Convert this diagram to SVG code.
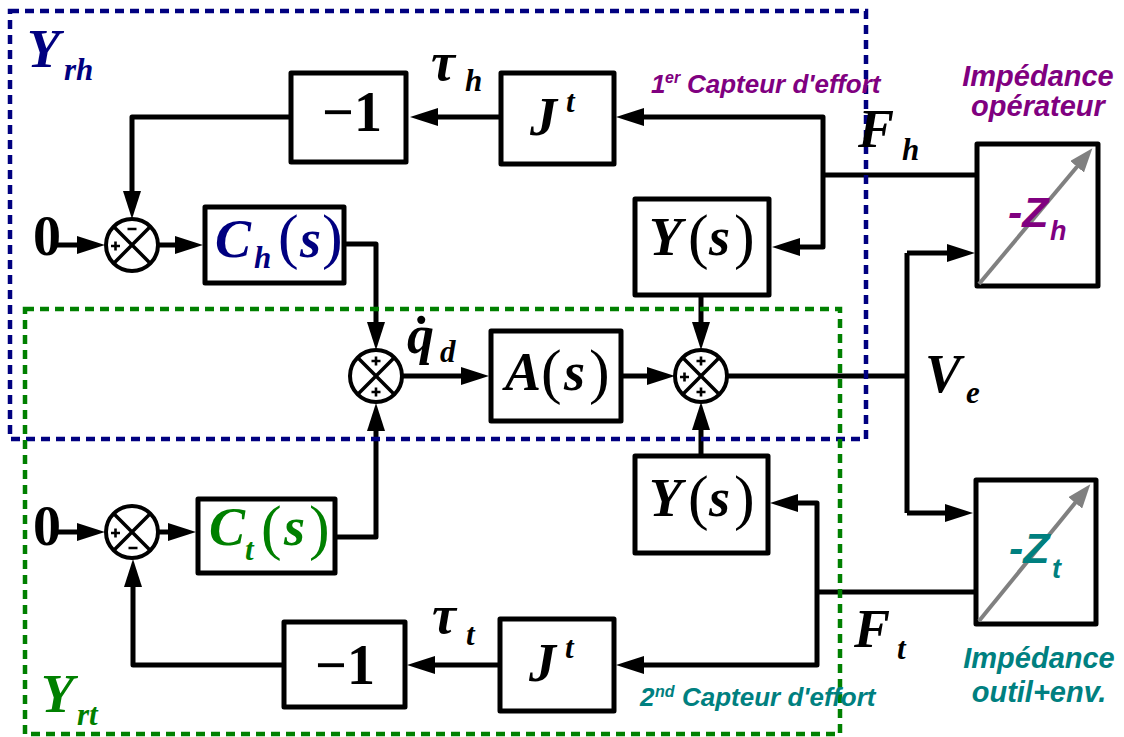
<svg xmlns="http://www.w3.org/2000/svg" width="1124" height="737" viewBox="0 0 1124 737">
<style>
.box{fill:#fff;stroke:#000;stroke-width:5;stroke-linejoin:round}
.sum{fill:#fff;stroke:#000;stroke-width:4}
.x{stroke:#000;stroke-width:3.5;fill:none}
.sg{stroke:#000;stroke-width:2.6;fill:none}
.c{fill:none;stroke:#000;stroke-width:5;stroke-linejoin:round}
.ca{fill:none;stroke:#000;stroke-width:5;stroke-linejoin:round;marker-end:url(#ah)}
.g{fill:none;stroke:#808080;stroke-width:4;marker-end:url(#gh)}
.dash{fill:none;stroke-width:4.5;stroke-dasharray:9 6}
.m{font-family:"Liberation Serif",serif;font-weight:bold;font-style:italic;font-size:54px}
.mu{font-family:"Liberation Serif",serif;font-weight:bold;font-size:56px}
.s{font-size:31px}
.p{font-family:"Liberation Serif",serif;font-weight:normal;font-style:normal;font-size:62px}
.lab{font-family:"Liberation Sans",Arial,sans-serif;font-weight:bold;font-style:italic}
</style>
<defs>
<marker id="ah" markerUnits="userSpaceOnUse" markerWidth="28" markerHeight="18" refX="18" refY="9" orient="auto"><path d="M0,0 L28,9 L0,18 z" fill="#000"/></marker>
<marker id="gh" markerUnits="userSpaceOnUse" markerWidth="24" markerHeight="18" refX="14" refY="9" orient="auto"><path d="M0,0 L24,9 L0,18 z" fill="#808080"/></marker>
</defs>
<rect width="1124" height="737" fill="#fff"/>

<g id="connectors">
<path class="ca" d="M57,245 H95"/>
<path class="ca" d="M158,245 H193"/>
<path class="ca" d="M346,244 H376 V340"/>
<path class="ca" d="M499,117 H420"/>
<path class="ca" d="M289,117 H132 V209"/>
<path class="ca" d="M402,376 H479"/>
<path class="ca" d="M623,376 H665"/>
<path class="ca" d="M701,297 V340"/>
<path class="ca" d="M701,454 V412"/>
<path class="c" d="M727,376 H907"/>
<path class="c" d="M907,253 V513"/>
<path class="ca" d="M907,253 H965"/>
<path class="ca" d="M907,513 H963"/>
<path class="c" d="M977,175 H823"/>
<path class="ca" d="M823,175 V117 H626"/>
<path class="ca" d="M823,175 V247 H782"/>
<path class="c" d="M976,592 H817"/>
<path class="ca" d="M817,592 V503 H780"/>
<path class="ca" d="M817,592 V665 H626"/>
<path class="ca" d="M337,537 H376 V413"/>
<path class="ca" d="M57,532 H95"/>
<path class="ca" d="M158,532 H186"/>
<path class="ca" d="M282,665 H133 V569"/>
<path class="ca" d="M498,665 H417"/>
</g>

<g id="n-minus1-top"><rect class="box" x="291" y="73" width="115" height="89"/><text class="mu" x="352" y="131" text-anchor="middle">−1</text></g>
<g id="n-Jt-top"><rect class="box" x="501" y="73" width="113" height="91"/><text class="m" x="530" y="135">J</text><text class="m s" x="566" y="112">t</text></g>
<g id="n-Ch"><rect class="box" x="205" y="207" width="139" height="76"/><text class="m" fill="#000080"><tspan x="215" y="257">C</tspan><tspan class="s" x="254" y="268">h</tspan></text><text class="p" fill="#000080" x="278" y="257">(</text><text class="m" fill="#000080" x="300" y="257">s</text><text class="p" fill="#000080" x="322" y="257">)</text></g>
<g id="n-Y-top"><rect class="box" x="635" y="199" width="134" height="96"/><text class="m" x="649" y="255">Y</text><text class="p" x="688" y="257">(</text><text class="m" x="709" y="255">s</text><text class="p" x="734" y="257">)</text></g>
<g id="n-A"><rect class="box" x="491" y="331" width="130" height="90"/><text class="m" x="505" y="390">A</text><text class="p" x="541" y="392">(</text><text class="m" x="564" y="390">s</text><text class="p" x="589" y="392">)</text></g>
<g id="n-Y-bot"><rect class="box" x="635" y="456" width="133" height="97"/><text class="m" x="649" y="516">Y</text><text class="p" x="688" y="518">(</text><text class="m" x="709" y="516">s</text><text class="p" x="734" y="518">)</text></g>
<g id="n-Ct"><rect class="box" x="198" y="499" width="137" height="74"/><text class="m" fill="#008000"><tspan x="209" y="545">C</tspan><tspan class="s" x="245" y="560">t</tspan></text><text class="p" fill="#008000" x="261" y="548">(</text><text class="m" fill="#008000" x="284" y="545">s</text><text class="p" fill="#008000" x="309" y="548">)</text></g>
<g id="n-minus1-bot"><rect class="box" x="284" y="622" width="121" height="85"/><text class="mu" x="345" y="684" text-anchor="middle">−1</text></g>
<g id="n-Jt-bot"><rect class="box" x="500" y="619" width="114" height="92"/><text class="m" x="529" y="681">J</text><text class="m s" x="565" y="658">t</text></g>

<g id="n-sum1"><circle class="sum" cx="132" cy="245" r="26"/><path class="x" d="M113.6,226.6 L150.4,263.4 M150.4,226.6 L113.6,263.4"/><path class="sg" d="M111,246 h9 M115.5,241.5 v9 M127.5,229 h9"/></g>
<g id="n-sum2"><circle class="sum" cx="376" cy="376" r="26"/><path class="x" d="M357.6,357.6 L394.4,394.4 M394.4,357.6 L357.6,394.4"/><path class="sg" d="M371.5,361 h9 M376,356.5 v9 M371.5,392 h9 M376,387.5 v9"/></g>
<g id="n-sum3"><circle class="sum" cx="132" cy="532" r="26"/><path class="x" d="M113.6,513.6 L150.4,550.4 M150.4,513.6 L113.6,550.4"/><path class="sg" d="M111,533 h9 M115.5,528.5 v9 M128.5,548 h9"/></g>
<g id="n-sum4"><circle class="sum" cx="701" cy="376" r="26"/><path class="x" d="M682.6,357.6 L719.4,394.4 M719.4,357.6 L682.6,394.4"/><path class="sg" d="M696.5,361 h9 M701,356.5 v9 M696.5,392 h9 M701,387.5 v9 M680,377 h9 M684.5,372.5 v9"/></g>

<g id="n-Zh"><rect class="box" x="977" y="144" width="121" height="142"/><path class="g" d="M979,284 L1086,156"/><text class="lab" fill="#800080" font-size="43" x="1008" y="227">-Z</text><text class="lab" fill="#800080" font-size="27" x="1050" y="240">h</text></g>
<g id="n-Zt"><rect class="box" x="976" y="480" width="120" height="144"/><path class="g" d="M979,621 L1084,492"/><text class="lab" fill="#008080" font-size="43" x="1009" y="563">-Z</text><text class="lab" fill="#008080" font-size="27" x="1052" y="578">t</text></g>

<g id="regions">
<rect class="dash" stroke="#000080" x="10" y="11" width="856" height="428"/>
<rect class="dash" stroke="#008000" x="25" y="309" width="815" height="425"/>
</g>

<g id="labels">
<text class="mu" font-size="42" x="33" y="255">0</text>
<text class="mu" font-size="42" x="33" y="545">0</text>
<text class="m" fill="#000080" x="27" y="67">Y</text><text class="m s" fill="#000080" x="64" y="80">rh</text>
<text class="m" fill="#008000" x="41" y="712">Y</text><text class="m s" fill="#008000" x="77" y="725">rt</text>
<text class="m" x="431" y="80">τ</text><text class="m s" x="465" y="91">h</text>
<text class="m" x="432" y="633">τ</text><text class="m s" x="466" y="645">t</text>
<text class="m" x="407" y="353">q̇</text><text class="m s" x="440" y="362">d</text>
<text class="m" x="858" y="147">F</text><text class="m s" x="902" y="160">h</text>
<text class="m" x="854" y="647">F</text><text class="m s" x="897" y="659">t</text>
<text class="m" x="925" y="392">V</text><text class="m s" x="966" y="403">e</text>
<text class="lab" fill="#800080" font-size="26"><tspan x="651" y="93">1</tspan><tspan font-size="16" x="665" y="83">er</tspan><tspan x="687" y="93">Capteur d'effort</tspan></text>
<text class="lab" fill="#008080" font-size="26"><tspan x="640" y="706">2</tspan><tspan font-size="16" x="655" y="697">nd</tspan><tspan x="682" y="706">Capteur d'effort</tspan></text>
<text class="lab" fill="#800080" font-size="29" text-anchor="middle"><tspan x="1038" y="86">Impédance</tspan><tspan x="1038" y="116">opérateur</tspan></text>
<text class="lab" fill="#008080" font-size="29" text-anchor="middle"><tspan x="1039" y="668">Impédance</tspan><tspan x="1039" y="702">outil+env.</tspan></text>
</g>
</svg>
